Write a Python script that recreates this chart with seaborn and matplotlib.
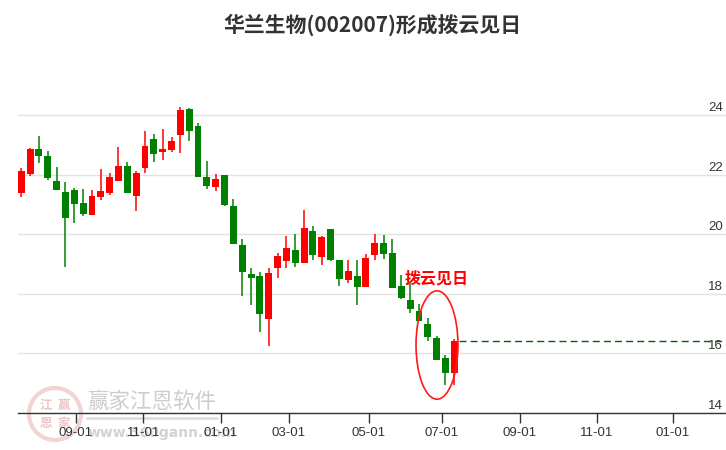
import numpy as np
import pandas as pd
import matplotlib
matplotlib.use("Agg")
import matplotlib.pyplot as plt
import matplotlib.transforms as mtransforms
from matplotlib.patches import Ellipse
from matplotlib import font_manager
import seaborn as sns

# ---------------- data ----------------
title = "华兰生物(002007)形成拨云见日"
signal_text = "拨云见日"

opens = [21.40, 22.03, 22.86, 22.63, 21.79, 21.42, 21.49, 21.05, 20.66, 21.26,
         21.40, 21.80, 22.29, 21.30, 22.24, 23.20, 22.77, 22.83, 23.35, 24.21,
         23.64, 21.92, 21.60, 21.99, 20.95, 19.64, 18.67, 18.60, 17.16, 18.88,
         19.11, 19.47, 19.05, 20.11, 19.25, 20.18, 19.14, 18.47, 18.60, 18.23,
         19.31, 19.71, 19.37, 18.26, 17.79, 17.42, 16.99, 16.52, 15.84, 15.33]
highs = [22.23, 22.91, 23.30, 22.80, 22.26, 21.76, 21.55, 21.52, 21.49, 22.19,
         22.06, 22.93, 22.43, 22.13, 23.47, 23.38, 23.54, 23.27, 24.29, 24.24,
         23.74, 22.46, 22.03, 21.99, 21.19, 19.84, 18.87, 18.73, 18.87, 19.37,
         19.94, 20.01, 20.82, 20.28, 19.94, 20.18, 19.14, 19.14, 19.14, 19.35,
         20.01, 19.98, 19.85, 18.63, 18.40, 17.66, 17.19, 16.58, 15.94, 16.48]
lows = [21.25, 21.96, 22.40, 21.82, 21.50, 18.91, 20.39, 20.62, 20.66, 21.15,
        21.33, 21.80, 21.40, 20.79, 22.07, 22.43, 22.50, 22.77, 22.74, 23.14,
        21.93, 21.53, 21.46, 20.96, 19.68, 17.94, 17.63, 16.73, 16.26, 18.54,
        18.88, 18.91, 19.05, 19.15, 18.98, 19.11, 18.27, 18.37, 17.63, 18.23,
        19.15, 19.18, 18.21, 17.82, 17.37, 17.10, 16.43, 15.79, 14.95, 14.94]
closes = [22.13, 22.86, 22.64, 21.90, 21.50, 20.56, 21.03, 20.69, 21.29, 21.45,
          21.92, 22.29, 21.40, 22.06, 22.97, 22.71, 22.86, 23.13, 24.17, 23.48,
          21.93, 21.63, 21.86, 20.99, 19.68, 18.74, 18.54, 17.33, 18.70, 19.27,
          19.54, 19.05, 20.21, 19.31, 19.91, 19.15, 18.51, 18.77, 18.24, 19.20,
          19.71, 19.35, 18.21, 17.87, 17.50, 17.10, 16.56, 15.79, 15.35, 16.42]

x_tick_pos = [6.19, 13.83, 22.56, 30.29, 39.35, 47.61, 56.43, 65.15, 73.75]
x_tick_labels = ["09-01", "11-01", "01-01", "03-01", "05-01", "07-01",
                 "09-01", "11-01", "01-01"]
y_ticks = [14, 16, 18, 20, 22, 24]

# ---------------- style ----------------
sns.set_theme(style="white")
plt.rcParams['font.family'] = ['Noto Sans CJK SC', 'DejaVu Sans']
available = {f.name for f in font_manager.fontManager.ttflist}
narrow = 'Liberation Sans Narrow' if 'Liberation Sans Narrow' in available else 'Liberation Sans'

UP = '#ff0000'
DOWN = '#008000'

df = pd.DataFrame({"open": opens, "high": highs, "low": lows, "close": closes})
df["idx"] = np.arange(len(df))
df["up"] = df["close"] >= df["open"]
df["color"] = np.where(df["up"], UP, DOWN)
df["body_bottom"] = df[["open", "close"]].min(axis=1)
df["body_height"] = (df["close"] - df["open"]).abs().clip(lower=0.04)

W, H = 726, 450
fig = plt.figure(figsize=(W / 100, H / 100), dpi=100)
ax_left, ax_right, ax_bottom_px, ax_top_px = 18, 726, 412.9, 61.6
ax = fig.add_axes([ax_left / W, 1 - ax_bottom_px / H,
                   (ax_right - ax_left) / W, (ax_bottom_px - ax_top_px) / H])
ax.patch.set_visible(False)

# wicks and bodies
ax.vlines(df["idx"], df["low"], df["high"], colors=df["color"], linewidth=1.1, zorder=2)
ax.bar(df["idx"], df["body_height"], bottom=df["body_bottom"], width=0.78,
       color=df["color"], linewidth=0, zorder=3)

xmax = 79.74
ax.set_xlim(-0.37, xmax)
ax.set_ylim(14, 25.8)

# dashed line at last close
last_i = len(df) - 1
ax.hlines(df["close"].iloc[-1], last_i + 0.5, xmax, colors='#006400',
          linestyles=(0, (5, 3)), linewidth=1, zorder=2)

# grid
ax.set_yticks(y_ticks)
ax.yaxis.grid(True, color='#e2e2e2', linewidth=1)
ax.xaxis.grid(False)
ax.set_axisbelow(True)
ax.tick_params(axis='y', left=False, right=False, labelleft=False, labelright=False)
trans = mtransforms.blended_transform_factory(ax.transAxes, ax.transData)
for v in y_ticks:
    ax.text(0.9955, v + 0.03, str(v), transform=trans, ha='right', va='bottom',
            fontsize=9.5, color='#333333', family=[narrow, 'DejaVu Sans'])

# x axis
ax.set_xticks(x_tick_pos)
ax.set_xticklabels(x_tick_labels, family=[narrow, 'DejaVu Sans'])
ax.tick_params(axis='x', bottom=True, direction='out', length=7, width=1,
               color='#333333', labelsize=9.5, labelcolor='#333333', pad=3)
for s in ['left', 'right', 'top']:
    ax.spines[s].set_visible(False)
ax.spines['bottom'].set_color('#333333')
ax.spines['bottom'].set_linewidth(1)

# annotation
ax.text(43.42, 18.53, signal_text, color='#ff0000', fontsize=11.5,
        fontweight='bold', ha='left', va='center', zorder=5)
ax.add_patch(Ellipse((47.04, 16.28), width=4.75, height=3.64, fill=False,
                     edgecolor='#ff1a1a', linewidth=1.2, zorder=4))

# title
fig.text(372 / W, 1 - 25 / H, title, ha='center', va='center', fontsize=15,
         fontweight='bold', color='#333333')

# watermark
def fx(x):
    return x / W

def fy(y):
    return 1 - y / H

fig.patches.append(Ellipse((fx(55), fy(414)), width=52 / W, height=52 / H,
                           transform=fig.transFigure, fill=False,
                           edgecolor='#f2d4d4', linewidth=3, zorder=-2))
for (cx, cy, ch) in [(46, 405, "江"), (64, 405, "赢"), (46, 423, "恩"), (64, 423, "家")]:
    fig.text(fx(cx), fy(cy), ch, ha='center', va='center', fontsize=9,
             color='#efc4c4', fontweight='bold', zorder=-1)
fig.text(fx(87), fy(402), "赢家江恩软件", ha='left', va='center', fontsize=15.5,
         color='#cdcdcd', zorder=-1)
fig.lines.append(plt.Line2D([fx(87), fx(217)], [fy(418), fy(418)],
                            transform=fig.transFigure, color='#e6dada',
                            linewidth=2, zorder=-1))
fig.text(fx(88), fy(433), "www.360gann.com", ha='left', va='center', fontsize=10,
         color='#d2d2d2', fontweight='bold', family=['DejaVu Sans'], zorder=-1)

fig.savefig("out.png", dpi=100, facecolor='white')
